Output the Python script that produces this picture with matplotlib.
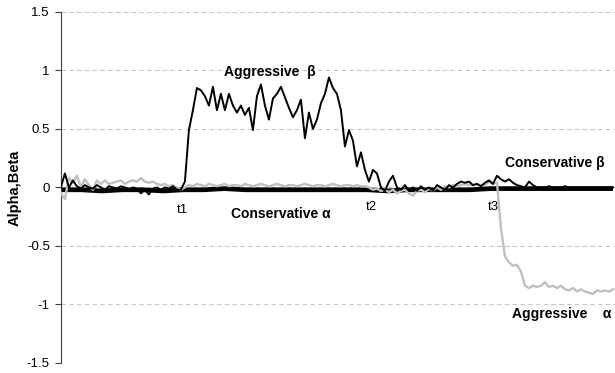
import numpy as np
import matplotlib
matplotlib.use('Agg')
import matplotlib.pyplot as plt

plt.rcParams['font.family'] = ['Liberation Sans', 'DejaVu Sans']

# time axis: 0 .. 1108 steps, samples every 8 steps
t_end = 1108
step = 8

# Aggressive beta (thin black)
aggr_beta = [
    0.0, 0.12, 0.0, 0.06, 0.01, -0.01, 0.02, 0.0, -0.01, 0.02,
    0.0, -0.02, 0.01, 0.0, -0.01, 0.01, 0.0, -0.02, 0.0, -0.01,
    -0.05, -0.02, -0.06, -0.01, 0.0, -0.02, 0.0, -0.01, 0.01, -0.02,
    -0.02, 0.05, 0.49, 0.66, 0.85, 0.83, 0.78, 0.70, 0.86, 0.66,
    0.80, 0.66, 0.80, 0.70, 0.64, 0.70, 0.62, 0.68, 0.49, 0.78,
    0.88, 0.70, 0.58, 0.76, 0.80, 0.86, 0.77, 0.68, 0.60, 0.66,
    0.75, 0.42, 0.64, 0.50, 0.58, 0.72, 0.80, 0.94, 0.85, 0.80,
    0.66, 0.35, 0.49, 0.40, 0.18, 0.30, 0.15, 0.05, 0.15, 0.12,
    0.0, -0.03, 0.05, 0.10, 0.0, -0.02, 0.02, -0.03, 0.0, -0.03,
    0.01, -0.02, 0.0, -0.03, 0.02, 0.0, -0.02, 0.02, 0.0, 0.03,
    0.05, 0.04, 0.05, 0.02, 0.03, 0.01, 0.04, 0.06, 0.03, 0.10,
    0.07, 0.05, 0.07, 0.04, 0.02, 0.01, 0.0, 0.05, 0.02, 0.0,
    0.0, 0.0, 0.01, 0.0, 0.0, 0.0, 0.01, 0.0, 0.0, 0.0,
    0.0, 0.0, 0.0, 0.0, 0.0, 0.0, 0.0, 0.0, 0.0,
]

# Aggressive alpha (grey)
aggr_alpha = [
    -0.05, -0.10, 0.08, 0.04, 0.10, 0.0, 0.07, 0.02, -0.02, 0.06,
    0.03, 0.06, 0.03, 0.04, 0.05, 0.06, 0.03, 0.05, 0.06, 0.05,
    0.08, 0.05, 0.04, 0.05, 0.03, 0.02, 0.03, 0.01, 0.02, 0.0,
    -0.02, 0.0, 0.02, 0.01, 0.03, 0.02, 0.01, 0.03, 0.02, 0.01,
    0.02, 0.03, 0.01, 0.02, 0.02, 0.01, 0.03, 0.02, 0.01, 0.02,
    0.03, 0.02, 0.01, 0.02, 0.03, 0.02, 0.01, 0.02, 0.02, 0.01,
    0.02, 0.03, 0.02, 0.01, 0.02, 0.02, 0.01, 0.02, 0.03, 0.02,
    0.01, 0.02, 0.02, 0.01, 0.02, 0.01, 0.01, 0.0, -0.02, -0.01,
    -0.03, -0.02, -0.04, -0.02, -0.05, -0.03, -0.02, -0.05, -0.07, -0.03,
    -0.02, -0.04, -0.01, -0.03, 0.0, -0.02, 0.01, 0.0, 0.02, 0.01,
    0.02, 0.03, 0.02, 0.02, 0.03, 0.02, 0.02, 0.05, 0.03, 0.04,
    -0.35, -0.59, -0.64, -0.67, -0.66, -0.72, -0.84, -0.86, -0.84, -0.85,
    -0.84, -0.81, -0.85, -0.84, -0.86, -0.84, -0.87, -0.88, -0.86, -0.89,
    -0.87, -0.89, -0.90, -0.91, -0.88, -0.89, -0.88, -0.89, -0.87,
]

# Conservative (thick black band near zero)
cons = [
    -0.02, -0.02, -0.03, -0.02, -0.02, -0.03, -0.02, -0.02, -0.01, -0.02,
    -0.02, -0.02, -0.02, -0.02, -0.02, -0.02, -0.03, -0.02, -0.02, -0.02,
    -0.02, -0.01, -0.01, -0.01, -0.01, -0.01, -0.01, -0.01,
]

t_beta = np.arange(len(aggr_beta)) * step
t_alpha = np.arange(len(aggr_alpha)) * step
t_cons = np.linspace(0, t_beta[-1], len(cons))

fig = plt.figure(figsize=(6.15, 3.73), dpi=100)
ax = fig.add_axes([0.099, 0.027, 0.901, 0.941])

ax.plot(t_cons, cons, color='black', lw=3.4, solid_capstyle='butt', zorder=2)
ax.plot(t_alpha, aggr_alpha, color='#c0c0c0', lw=1.7, zorder=3)
ax.plot(t_beta, aggr_beta, color='black', lw=1.4, zorder=4)

ax.set_xlim(0, t_end)
ax.set_ylim(-1.5, 1.5)
ax.set_yticks([-1.5, -1, -0.5, 0, 0.5, 1, 1.5])
ax.set_yticklabels(['-1.5', '-1', '-0.5', '0', '0.5', '1', '1.5'])
ax.set_xticks([])
ax.yaxis.grid(True, linestyle=(0, (4, 3)), color='#c8c8c8', lw=0.8)
ax.set_axisbelow(True)
for s in ['top', 'right', 'bottom']:
    ax.spines[s].set_visible(False)
ax.spines['left'].set_color('#404040')
ax.tick_params(axis='y', direction='out', length=4, labelsize=9.5, color='#404040', pad=4)
ax.set_ylabel('Alpha,Beta', fontsize=10.5, fontweight='bold', labelpad=4)

bold = dict(fontsize=10, fontweight='bold', ha='center', va='center')
ax.text(418, 0.99, 'Aggressive  β', **bold)
ax.text(440, -0.23, 'Conservative α', **bold)
ax.text(988, 0.21, 'Conservative β', **bold)
ax.text(1002, -1.08, 'Aggressive    α', **bold)
ax.text(244, -0.19, 't1', fontsize=9.5, ha='center', va='center')
ax.text(620, -0.17, 't2', fontsize=9.5, ha='center', va='center')
ax.text(864, -0.17, 't3', fontsize=9.5, ha='center', va='center')

fig.savefig('out.png', dpi=100)
